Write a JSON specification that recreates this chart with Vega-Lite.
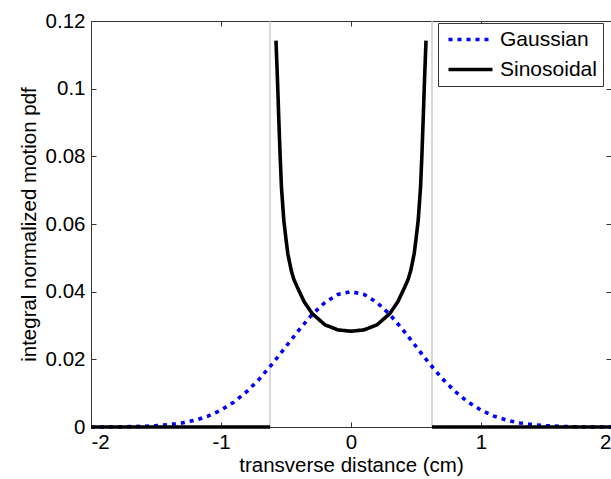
{
  "$schema": "https://vega.github.io/schema/vega-lite/v6.json",
  "width": 520,
  "height": 406,
  "autosize": {"type": "none"},
  "padding": {"left": 91, "top": 21, "right": 0, "bottom": 52},
  "background": "white",
  "config": {
    "font": "Liberation Sans",
    "view": {"stroke": "#333333", "strokeWidth": 1},
    "axis": {
      "grid": false,
      "domainColor": "#333333",
      "tickColor": "#333333",
      "tickSize": -5,
      "labelFont": "Liberation Sans",
      "labelFontSize": 20.5,
      "labelColor": "black",
      "titleFont": "Liberation Sans",
      "titleFontSize": 20.5,
      "titleFontWeight": "normal",
      "titleColor": "black"
    }
  },
  "datasets": {
    "curves": [
      {"series": "Gaussian", "seg": "g", "x": -2.0, "y": 0},
      {"series": "Gaussian", "seg": "g", "x": -1.9, "y": 0},
      {"series": "Gaussian", "seg": "g", "x": -1.8, "y": 0},
      {"series": "Gaussian", "seg": "g", "x": -1.7, "y": 0.0001},
      {"series": "Gaussian", "seg": "g", "x": -1.6, "y": 0.0002},
      {"series": "Gaussian", "seg": "g", "x": -1.5, "y": 0.0004},
      {"series": "Gaussian", "seg": "g", "x": -1.4, "y": 0.0007},
      {"series": "Gaussian", "seg": "g", "x": -1.3, "y": 0.0012},
      {"series": "Gaussian", "seg": "g", "x": -1.2, "y": 0.0020},
      {"series": "Gaussian", "seg": "g", "x": -1.1, "y": 0.0032},
      {"series": "Gaussian", "seg": "g", "x": -1.0, "y": 0.0050},
      {"series": "Gaussian", "seg": "g", "x": -0.9, "y": 0.0074},
      {"series": "Gaussian", "seg": "g", "x": -0.8, "y": 0.0105},
      {"series": "Gaussian", "seg": "g", "x": -0.7, "y": 0.0144},
      {"series": "Gaussian", "seg": "g", "x": -0.6, "y": 0.0189},
      {"series": "Gaussian", "seg": "g", "x": -0.5, "y": 0.0238},
      {"series": "Gaussian", "seg": "g", "x": -0.4, "y": 0.0287},
      {"series": "Gaussian", "seg": "g", "x": -0.3, "y": 0.0332},
      {"series": "Gaussian", "seg": "g", "x": -0.2, "y": 0.0368},
      {"series": "Gaussian", "seg": "g", "x": -0.1, "y": 0.0392},
      {"series": "Gaussian", "seg": "g", "x": 0.0, "y": 0.0400},
      {"series": "Gaussian", "seg": "g", "x": 0.1, "y": 0.0392},
      {"series": "Gaussian", "seg": "g", "x": 0.2, "y": 0.0368},
      {"series": "Gaussian", "seg": "g", "x": 0.3, "y": 0.0332},
      {"series": "Gaussian", "seg": "g", "x": 0.4, "y": 0.0287},
      {"series": "Gaussian", "seg": "g", "x": 0.5, "y": 0.0238},
      {"series": "Gaussian", "seg": "g", "x": 0.6, "y": 0.0189},
      {"series": "Gaussian", "seg": "g", "x": 0.7, "y": 0.0144},
      {"series": "Gaussian", "seg": "g", "x": 0.8, "y": 0.0105},
      {"series": "Gaussian", "seg": "g", "x": 0.9, "y": 0.0074},
      {"series": "Gaussian", "seg": "g", "x": 1.0, "y": 0.0050},
      {"series": "Gaussian", "seg": "g", "x": 1.1, "y": 0.0032},
      {"series": "Gaussian", "seg": "g", "x": 1.2, "y": 0.0020},
      {"series": "Gaussian", "seg": "g", "x": 1.3, "y": 0.0012},
      {"series": "Gaussian", "seg": "g", "x": 1.4, "y": 0.0007},
      {"series": "Gaussian", "seg": "g", "x": 1.5, "y": 0.0004},
      {"series": "Gaussian", "seg": "g", "x": 1.6, "y": 0.0002},
      {"series": "Gaussian", "seg": "g", "x": 1.7, "y": 0.0001},
      {"series": "Gaussian", "seg": "g", "x": 1.8, "y": 0},
      {"series": "Gaussian", "seg": "g", "x": 1.9, "y": 0},
      {"series": "Gaussian", "seg": "g", "x": 2.0, "y": 0},
      {"series": "Sinosoidal", "seg": "s1", "x": -2.0, "y": 0},
      {"series": "Sinosoidal", "seg": "s1", "x": -0.623, "y": 0},
      {"series": "Sinosoidal", "seg": "s2", "x": -0.577, "y": 0.1142},
      {"series": "Sinosoidal", "seg": "s2", "x": -0.565, "y": 0.1020},
      {"series": "Sinosoidal", "seg": "s2", "x": -0.555, "y": 0.0906},
      {"series": "Sinosoidal", "seg": "s2", "x": -0.545, "y": 0.0800},
      {"series": "Sinosoidal", "seg": "s2", "x": -0.535, "y": 0.0709},
      {"series": "Sinosoidal", "seg": "s2", "x": -0.517, "y": 0.0611},
      {"series": "Sinosoidal", "seg": "s2", "x": -0.500, "y": 0.0555},
      {"series": "Sinosoidal", "seg": "s2", "x": -0.486, "y": 0.0512},
      {"series": "Sinosoidal", "seg": "s2", "x": -0.460, "y": 0.0463},
      {"series": "Sinosoidal", "seg": "s2", "x": -0.440, "y": 0.0437},
      {"series": "Sinosoidal", "seg": "s2", "x": -0.414, "y": 0.0414},
      {"series": "Sinosoidal", "seg": "s2", "x": -0.360, "y": 0.0370},
      {"series": "Sinosoidal", "seg": "s2", "x": -0.298, "y": 0.0335},
      {"series": "Sinosoidal", "seg": "s2", "x": -0.200, "y": 0.0302},
      {"series": "Sinosoidal", "seg": "s2", "x": -0.100, "y": 0.0287},
      {"series": "Sinosoidal", "seg": "s2", "x": 0.0, "y": 0.0283},
      {"series": "Sinosoidal", "seg": "s2", "x": 0.100, "y": 0.0287},
      {"series": "Sinosoidal", "seg": "s2", "x": 0.200, "y": 0.0302},
      {"series": "Sinosoidal", "seg": "s2", "x": 0.298, "y": 0.0335},
      {"series": "Sinosoidal", "seg": "s2", "x": 0.360, "y": 0.0370},
      {"series": "Sinosoidal", "seg": "s2", "x": 0.414, "y": 0.0414},
      {"series": "Sinosoidal", "seg": "s2", "x": 0.440, "y": 0.0437},
      {"series": "Sinosoidal", "seg": "s2", "x": 0.460, "y": 0.0463},
      {"series": "Sinosoidal", "seg": "s2", "x": 0.486, "y": 0.0512},
      {"series": "Sinosoidal", "seg": "s2", "x": 0.500, "y": 0.0555},
      {"series": "Sinosoidal", "seg": "s2", "x": 0.517, "y": 0.0611},
      {"series": "Sinosoidal", "seg": "s2", "x": 0.535, "y": 0.0709},
      {"series": "Sinosoidal", "seg": "s2", "x": 0.545, "y": 0.0800},
      {"series": "Sinosoidal", "seg": "s2", "x": 0.555, "y": 0.0906},
      {"series": "Sinosoidal", "seg": "s2", "x": 0.565, "y": 0.1020},
      {"series": "Sinosoidal", "seg": "s2", "x": 0.577, "y": 0.1142},
      {"series": "Sinosoidal", "seg": "s3", "x": 0.623, "y": 0},
      {"series": "Sinosoidal", "seg": "s3", "x": 2.0, "y": 0}
    ],
    "bounds": [{"x": -0.623}, {"x": 0.623}]
  },
  "layer": [
    {
      "data": {"name": "bounds"},
      "mark": {"type": "rule", "color": "#c4c4c4", "strokeWidth": 1.3},
      "encoding": {
        "x": {
          "field": "x", "type": "quantitative",
          "scale": {"domain": [-2, 2], "nice": false, "zero": false},
          "axis": {
            "orient": "bottom",
            "values": [-2, -1, 0, 1, 2],
            "labelExpr": "'' + datum.value",
            "labelPadding": 10,
            "title": "transverse distance (cm)",
            "titlePadding": 3
          }
        }
      }
    },
    {
      "data": {"name": "curves"},
      "mark": {"type": "line", "strokeWidth": 3.6, "strokeCap": "butt"},
      "encoding": {
        "x": {"field": "x", "type": "quantitative", "axis": null},
        "y": {
          "field": "y", "type": "quantitative",
          "scale": {"domain": [0, 0.12], "nice": false, "zero": false},
          "axis": {
            "orient": "left",
            "values": [0, 0.02, 0.04, 0.06, 0.08, 0.1, 0.12],
            "labelExpr": "'' + datum.value",
            "labelPadding": 11,
            "title": "integral normalized motion pdf",
            "titlePadding": 6
          }
        },
        "color": {
          "field": "series", "type": "nominal",
          "scale": {"domain": ["Gaussian", "Sinosoidal"], "range": ["#0000ff", "#000000"]},
          "legend": {
            "title": null, "orient": "none", "legendX": 347, "legendY": 2,
            "labelFont": "Liberation Sans", "labelFontSize": 21, "labelColor": "black",
            "symbolType": "M-4.4,0H4.4", "symbolSize": 100, "symbolStrokeWidth": 3.6,
            "symbolOffset": 16, "labelOffset": 19, "rowPadding": 8, "padding": 6,
            "strokeColor": "#333333", "fillColor": "white", "cornerRadius": 0
          }
        },
        "strokeDash": {
          "field": "series", "type": "nominal",
          "scale": {"domain": ["Gaussian", "Sinosoidal"], "range": [[4, 5], [1, 0]]},
          "legend": {
            "title": null, "orient": "none", "legendX": 347, "legendY": 2,
            "labelFont": "Liberation Sans", "labelFontSize": 21, "labelColor": "black",
            "symbolType": "M-4.4,0H4.4", "symbolSize": 100, "symbolStrokeWidth": 3.6,
            "symbolOffset": 16, "labelOffset": 19, "rowPadding": 8, "padding": 6,
            "strokeColor": "#333333", "fillColor": "white", "cornerRadius": 0
          }
        },
        "detail": {"field": "seg", "type": "nominal"}
      }
    },
    {
      "data": {"name": "bounds"},
      "mark": {"type": "point", "opacity": 0},
      "encoding": {
        "x": {
          "field": "x", "type": "quantitative",
          "axis": {"orient": "top", "values": [-2, -1, 0, 1, 2], "labels": false, "title": null, "domain": false}
        },
        "y": {
          "datum": 0, "type": "quantitative",
          "axis": {"orient": "right", "values": [0, 0.02, 0.04, 0.06, 0.08, 0.1, 0.12], "labels": false, "title": null, "domain": false}
        }
      }
    }
  ],
  "resolve": {"axis": {"x": "independent", "y": "independent"}}
}
